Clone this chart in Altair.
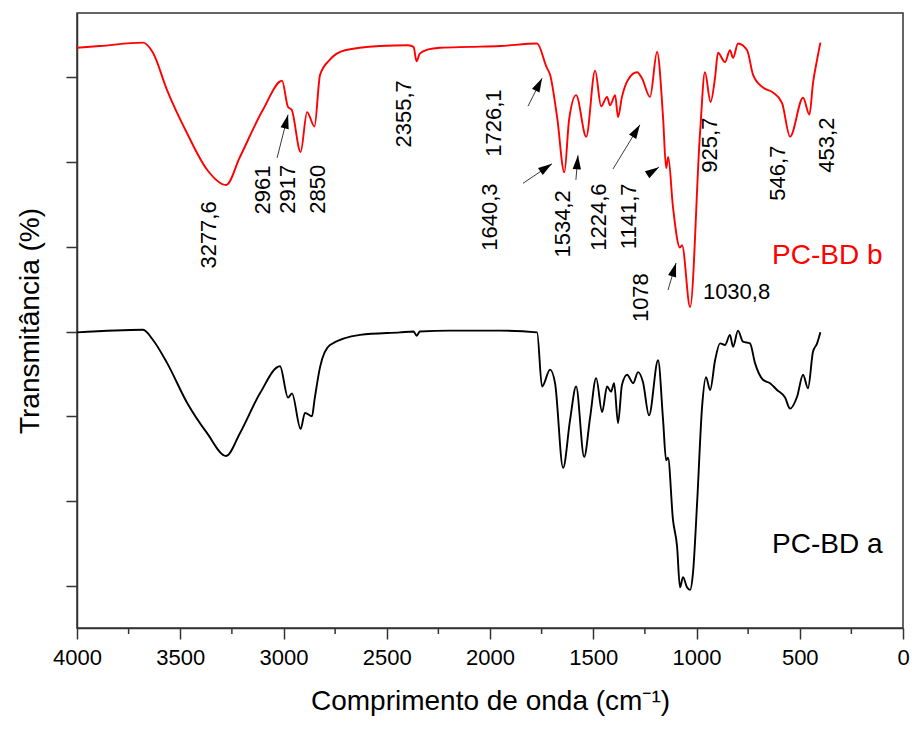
import math
import altair as alt
import pandas as pd

# ---------------- data ----------------
red_wn = [4000, 3889, 3680, 3632, 3564, 3467, 3370, 3278, 3211, 3099, 3007, 2978, 2961, 2917, 2886,
          2850, 2823, 2775, 2702, 2533, 2397, 2370, 2356, 2340, 2300, 2242, 2097, 1951, 1772, 1726,
          1709, 1675, 1640, 1617, 1583, 1534, 1491, 1462, 1433, 1419, 1394, 1380, 1361, 1332, 1288,
          1264, 1225, 1191, 1162, 1147, 1137, 1114, 1080, 1070, 1031, 983, 959, 932, 910, 896,
          862, 838, 823, 799, 755, 726, 678, 629, 586, 547, 484, 453, 436, 416, 400]
red_t = [6.85, 6.87, 6.91, 6.79, 6.35, 5.84, 5.41, 5.23, 5.56, 6.12, 6.46, 6.15, 6.12, 5.62, 6.09,
         5.92, 6.53, 6.71, 6.82, 6.87, 6.88, 6.86, 6.69, 6.78, 6.83, 6.85, 6.86, 6.87, 6.90, 6.62,
         6.53, 6.03, 5.38, 6.00, 6.29, 5.80, 6.58, 6.16, 6.27, 6.17, 6.29, 6.03, 6.27, 6.47, 6.56,
         6.49, 6.27, 6.80, 6.03, 5.43, 5.56, 4.97, 4.49, 4.52, 3.79, 5.84, 6.56, 6.21, 6.50, 6.79,
         6.68, 6.82, 6.73, 6.90, 6.82, 6.53, 6.38, 6.32, 6.20, 5.80, 6.26, 6.06, 6.43, 6.71, 6.91]

black_wn = [4000, 3680, 3632, 3564, 3467, 3370, 3278, 3211, 3114, 3017, 2978, 2959, 2917, 2896, 2862,
            2850, 2823, 2775, 2629, 2436, 2370, 2355, 2340, 2194, 1951, 1772, 1748, 1709, 1685, 1646,
            1612, 1583, 1544, 1515, 1486, 1457, 1433, 1414, 1399, 1380, 1361, 1336, 1307, 1283, 1259,
            1230, 1186, 1162, 1147, 1138, 1114, 1094, 1080, 1065, 1046, 1031, 1017, 997, 973, 954,
            934, 910, 886, 862, 838, 823, 799, 775, 741, 717, 678, 644, 610, 571, 547,
            513, 484, 460, 436, 416, 400]
black_t = [3.49, 3.52, 3.40, 3.13, 2.66, 2.30, 2.03, 2.30, 2.77, 3.09, 2.72, 2.77, 2.35, 2.54, 2.50,
           2.69, 3.08, 3.34, 3.46, 3.49, 3.50, 3.45, 3.50, 3.51, 3.51, 3.49, 2.85, 3.05, 2.89, 1.89,
           2.46, 2.85, 2.02, 2.49, 2.95, 2.55, 2.85, 2.79, 2.89, 2.42, 2.87, 2.99, 2.89, 3.02, 2.90,
           2.51, 3.16, 2.46, 1.98, 2.01, 1.28, 0.96, 0.48, 0.60, 0.48, 0.45, 0.65, 1.48, 2.61, 2.96,
           2.81, 3.16, 3.36, 3.34, 3.46, 3.32, 3.51, 3.38, 3.36, 3.13, 2.93, 2.89, 2.81, 2.72, 2.59,
           2.73, 2.99, 2.83, 3.26, 3.36, 3.49]

series_names = ["PC-BD a", "PC-BD b"]
series_colors = ["#000000", "#ff0000"]

# peak labels (rotated)
peak_labels = ["3277,6", "2961", "2917", "2850", "2355,7", "1726,1", "1640,3", "1534,2",
               "1224,6", "1141,7", "1078", "925,7", "546,7", "453,2"]
peak_lab_wn = [3361, 3099, 2978, 2833, 2416, 1981, 2000, 1647, 1472, 1327, 1269, 935, 605, 368]
peak_lab_t = [4.64, 5.17, 5.18, 5.18, 6.07, 5.96, 4.85, 4.77, 4.85, 4.86, 3.90, 5.70, 5.37, 5.70]

# horizontal labels
h_labels = ["1030,8", "PC-BD b", "PC-BD a"]
h_lab_wn = [969, 634, 634]
h_lab_t = [3.97, 4.39, 0.98]
h_lab_size = [22, 28, 28]
h_lab_color = ["#000000", "#ff0000", "#000000"]

# arrows: start -> tip
arr_wn0 = [3031, 1816, 1840, 1584, 1404, 1240, 1138]
arr_t0 = [5.55, 6.16, 5.25, 5.29, 5.42, 5.35, 3.99]
arr_wn1 = [2978, 1748, 1700, 1574, 1274, 1182, 1099]
arr_t1 = [6.06, 6.49, 5.48, 5.58, 5.94, 5.44, 4.31]

x_major_ticks = list(range(0, 4001, 500))
x_minor_ticks = list(range(250, 4000, 500))
y_ticks = [0.5, 1.5, 2.5, 3.5, 4.5, 5.5, 6.5]

# ---------------- layout ----------------
W, H = 826, 615
YMAX = 7.26
FONT = "Liberation Sans"
AX = "#333333"

rows = []
for wn, t in zip(black_wn, black_t):
    rows.append({"wn": wn, "t": t, "serie": series_names[0]})
for wn, t in zip(red_wn, red_t):
    rows.append({"wn": wn, "t": t, "serie": series_names[1]})
spec_df = pd.DataFrame(rows)

peaks_df = pd.DataFrame({"label": peak_labels, "wn": peak_lab_wn, "t": peak_lab_t})
h_df = pd.DataFrame({"label": h_labels, "wn": h_lab_wn, "t": h_lab_t,
                     "size": h_lab_size, "color": h_lab_color})
minor_df = pd.DataFrame({"wn": x_minor_ticks})

angles = []
for a0, b0, a1, b1 in zip(arr_wn0, arr_t0, arr_wn1, arr_t1):
    dx = (a0 - a1) * W / 4000.0
    up = (b1 - b0) * H / YMAX
    angles.append(math.degrees(math.atan2(dx, up)) % 360)
arr_df = pd.DataFrame({"wn0": arr_wn0, "t0": arr_t0, "wn1": arr_wn1, "t1": arr_t1, "ang": angles})

x_scale = alt.Scale(domain=[0, 4000], reverse=True, nice=False, zero=False)
y_scale = alt.Scale(domain=[0, YMAX], nice=False, zero=False)

x_axis = alt.Axis(
    title="Comprimento de onda (cm⁻¹)",
    values=x_major_ticks,
    format="d",
    tickSize=11,
    labelPadding=8,
    labelFontSize=22,
    labelFont=FONT,
    labelColor="#000000",
    labelFlush=False,
    labelOverlap=False,
    titleFontSize=28,
    titleFont=FONT,
    titleFontWeight="normal",
    titleColor="#000000",
    titlePadding=19,
    grid=False,
)
y_axis = alt.Axis(
    title="Transmitância (%)",
    values=y_ticks,
    labels=False,
    tickSize=11,
    titleFontSize=28,
    titleFont=FONT,
    titleFontWeight="normal",
    titleColor="#000000",
    titlePadding=21,
    grid=False,
)

lines = alt.Chart(spec_df).mark_line(strokeWidth=1.9, interpolate="monotone").encode(
    x=alt.X("wn:Q", scale=x_scale, axis=x_axis),
    y=alt.Y("t:Q", scale=y_scale, axis=y_axis),
    color=alt.Color("serie:N", scale=alt.Scale(domain=series_names, range=series_colors), legend=None),
    detail="serie:N",
)

minor_ticks = alt.Chart(minor_df).mark_rule(color=AX, strokeWidth=1.5).encode(
    x=alt.X("wn:Q", scale=x_scale),
    y=alt.value(H),
    y2=alt.value(H + 6),
)

peak_text = alt.Chart(peaks_df).mark_text(
    angle=270, align="center", baseline="middle", fontSize=22, font=FONT, color="#000000"
).encode(
    x=alt.X("wn:Q", scale=x_scale),
    y=alt.Y("t:Q", scale=y_scale),
    text="label:N",
)

h_text = alt.Chart(h_df).mark_text(align="left", baseline="middle", font=FONT).encode(
    x=alt.X("wn:Q", scale=x_scale),
    y=alt.Y("t:Q", scale=y_scale),
    text="label:N",
    size=alt.Size("size:Q", scale=None, legend=None),
    color=alt.Color("color:N", scale=None, legend=None),
)

arrow_lines = alt.Chart(arr_df).mark_rule(color="#222222", strokeWidth=0.9).encode(
    x=alt.X("wn0:Q", scale=x_scale),
    y=alt.Y("t0:Q", scale=y_scale),
    x2="wn1:Q",
    y2="t1:Q",
)

arrow_heads = alt.Chart(arr_df).mark_point(
    shape="M0,0 L-0.3,1 L0.3,1 Z", filled=True, color="#000000", opacity=1, size=780
).encode(
    x=alt.X("wn1:Q", scale=x_scale),
    y=alt.Y("t1:Q", scale=y_scale),
    angle=alt.Angle("ang:Q", scale=None),
)

chart = alt.layer(lines, minor_ticks, arrow_lines, arrow_heads, peak_text, h_text).properties(
    width=W,
    height=H,
    autosize=alt.AutoSizeParams(type="none"),
    padding={"left": 77, "top": 13, "right": 9, "bottom": 101},
    background="white",
).configure_view(
    stroke=AX, strokeWidth=1.5
).configure_axis(
    domainColor=AX, domainWidth=1.5, tickColor=AX, tickWidth=1.5
)

chart.save("out.html", embed_options={"renderer": "svg", "actions": False})
